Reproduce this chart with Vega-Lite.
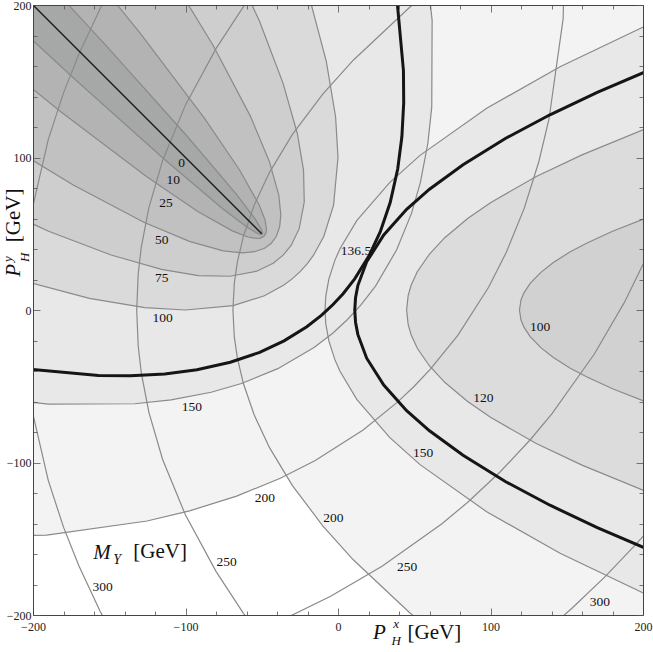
{
"$schema": "https://vega.github.io/schema/vega-lite/v6.json",
"width": 610, "height": 610,
"autosize": {"type": "none"},
"padding": {"left": 33, "top": 5, "right": 10, "bottom": 37},
"background": "white",
"config": {"view": {"stroke": null}},
"resolve": {"axis": {"x": "independent", "y": "independent"}},
"datasets": {
"c": [
{"g":"L10","i":0,"x":-220.3,"y":247.4},{"g":"L10","i":1,"x":-152.5,"y":173.8},{"g":"L10","i":2,"x":-99.03,"y":114.1},{"g":"L10","i":3,"x":-66.58,"y":75.84},{"g":"L10","i":4,"x":-54.36,"y":59.78},{"g":"L10","i":5,"x":-50.13,"y":52.7},{"g":"L10","i":6,"x":-49.5,"y":50.5},{"g":"L10","i":7,"x":-49.75,"y":49.75},{"g":"L10","i":8,"x":-50.5,"y":49.5},{"g":"L10","i":9,"x":-52.7,"y":50.13},{"g":"L10","i":10,"x":-59.78,"y":54.36},{"g":"L10","i":11,"x":-75.84,"y":66.58},{"g":"L10","i":12,"x":-114.1,"y":99.03},{"g":"L10","i":13,"x":-173.8,"y":152.5},{"g":"L10","i":14,"x":-247.4,"y":220.3},
{"g":"L25","i":0,"x":-199.8,"y":267.9},{"g":"L25","i":1,"x":-130.13,"y":182.0},{"g":"L25","i":2,"x":-87.5,"y":125.63},{"g":"L25","i":3,"x":-64.62,"y":91.95},{"g":"L25","i":4,"x":-51.89,"y":69.33},{"g":"L25","i":5,"x":-47.89,"y":59.18},{"g":"L25","i":6,"x":-46.875,"y":53.125},{"g":"L25","i":7,"x":-47.17,"y":50.71},{"g":"L25","i":8,"x":-48.44,"y":48.44},{"g":"L25","i":9,"x":-50.71,"y":47.17},{"g":"L25","i":10,"x":-53.125,"y":46.875},{"g":"L25","i":11,"x":-59.18,"y":47.89},{"g":"L25","i":12,"x":-69.33,"y":51.89},{"g":"L25","i":13,"x":-91.95,"y":64.62},{"g":"L25","i":14,"x":-125.63,"y":87.5},{"g":"L25","i":15,"x":-182.0,"y":130.13},{"g":"L25","i":16,"x":-267.9,"y":199.8},
{"g":"L50","i":0,"x":-164.9,"y":302.8},{"g":"L50","i":1,"x":-119.5,"y":235.06},{"g":"L50","i":2,"x":-81.95,"y":173.62},{"g":"L50","i":3,"x":-57.54,"y":127.31},{"g":"L50","i":4,"x":-45.01,"y":97.42},{"g":"L50","i":5,"x":-38.82,"y":75.32},{"g":"L50","i":6,"x":-37.5,"y":62.5},{"g":"L50","i":7,"x":-38.23,"y":54.7},{"g":"L50","i":8,"x":-40.5,"y":48.19},{"g":"L50","i":9,"x":-43.75,"y":43.75},{"g":"L50","i":10,"x":-48.19,"y":40.5},{"g":"L50","i":11,"x":-54.7,"y":38.23},{"g":"L50","i":12,"x":-62.5,"y":37.5},{"g":"L50","i":13,"x":-75.32,"y":38.82},{"g":"L50","i":14,"x":-97.42,"y":45.01},{"g":"L50","i":15,"x":-127.31,"y":57.54},{"g":"L50","i":16,"x":-173.62,"y":81.95},{"g":"L50","i":17,"x":-235.06,"y":119.5},{"g":"L50","i":18,"x":-302.8,"y":164.9},
{"g":"L75","i":0,"x":-128.35,"y":339.3},{"g":"L75","i":1,"x":-78.57,"y":247.7},{"g":"L75","i":2,"x":-51.65,"y":189.77},{"g":"L75","i":3,"x":-36.06,"y":148.8},{"g":"L75","i":4,"x":-26.67,"y":115.76},{"g":"L75","i":5,"x":-22.59,"y":91.55},{"g":"L75","i":6,"x":-22.13,"y":70.8},{"g":"L75","i":7,"x":-25.46,"y":53.33},{"g":"L75","i":8,"x":-30.64,"y":42.49},{"g":"L75","i":9,"x":-35.94,"y":35.94},{"g":"L75","i":10,"x":-42.49,"y":30.64},{"g":"L75","i":11,"x":-53.33,"y":25.46},{"g":"L75","i":12,"x":-70.8,"y":22.13},{"g":"L75","i":13,"x":-91.55,"y":22.59},{"g":"L75","i":14,"x":-115.76,"y":26.67},{"g":"L75","i":15,"x":-148.8,"y":36.06},{"g":"L75","i":16,"x":-189.77,"y":51.65},{"g":"L75","i":17,"x":-247.7,"y":78.57},{"g":"L75","i":18,"x":-339.3,"y":128.35},
{"g":"L100","i":0,"x":-89.3,"y":378.4},{"g":"L100","i":1,"x":-41.59,"y":270.55},{"g":"L100","i":2,"x":-19.49,"y":207.79},{"g":"L100","i":3,"x":-7.67,"y":163.05},{"g":"L100","i":4,"x":-1.58,"y":126.71},{"g":"L100","i":5,"x":0,"y":100},{"g":"L100","i":6,"x":-2.91,"y":68.81},{"g":"L100","i":7,"x":-9.33,"y":48.25},{"g":"L100","i":8,"x":-16.16,"y":35.75},{"g":"L100","i":9,"x":-20.25,"y":30.25},{"g":"L100","i":10,"x":-25,"y":25},{"g":"L100","i":11,"x":-30.25,"y":20.25},{"g":"L100","i":12,"x":-35.75,"y":16.16},{"g":"L100","i":13,"x":-48.25,"y":9.33},{"g":"L100","i":14,"x":-68.81,"y":2.91},{"g":"L100","i":15,"x":-100,"y":0},{"g":"L100","i":16,"x":-126.71,"y":1.58},{"g":"L100","i":17,"x":-163.05,"y":7.67},{"g":"L100","i":18,"x":-207.79,"y":19.49},{"g":"L100","i":19,"x":-270.55,"y":41.59},{"g":"L100","i":20,"x":-378.4,"y":89.3},
{"g":"L136","i":0,"x":-26.7,"y":441},{"g":"L136","i":1,"x":27.14,"y":268.6},{"g":"L136","i":2,"x":38.18,"y":208.9},{"g":"L136","i":3,"x":42.91,"y":157.06},{"g":"L136","i":4,"x":43.09,"y":136.02},{"g":"L136","i":5,"x":41.89,"y":113.6},{"g":"L136","i":6,"x":39.15,"y":92.48},{"g":"L136","i":7,"x":34.27,"y":70.63},{"g":"L136","i":8,"x":27.74,"y":51.37},{"g":"L136","i":9,"x":20.24,"y":35.39},{"g":"L136","i":10,"x":10.95,"y":20.44},{"g":"L136","i":11,"x":3.35,"y":10.72},{"g":"L136","i":12,"x":-3.42,"y":3.42},{"g":"L136","i":13,"x":-10.72,"y":-3.35},{"g":"L136","i":14,"x":-20.44,"y":-10.95},{"g":"L136","i":15,"x":-35.39,"y":-20.24},{"g":"L136","i":16,"x":-51.37,"y":-27.74},{"g":"L136","i":17,"x":-70.63,"y":-34.27},{"g":"L136","i":18,"x":-92.48,"y":-39.15},{"g":"L136","i":19,"x":-113.6,"y":-41.89},{"g":"L136","i":20,"x":-136.02,"y":-43.09},{"g":"L136","i":21,"x":-157.06,"y":-42.91},{"g":"L136","i":22,"x":-208.9,"y":-38.18},{"g":"L136","i":23,"x":-268.6,"y":-27.14},{"g":"L136","i":24,"x":-441,"y":26.7},
{"g":"L150","i":0,"x":-1.42,"y":466.3},{"g":"L150","i":1,"x":35.06,"y":347.2},{"g":"L150","i":2,"x":54.72,"y":253.7},{"g":"L150","i":3,"x":61.72,"y":190.0},{"g":"L150","i":4,"x":61.48,"y":133.19},{"g":"L150","i":5,"x":58.94,"y":109.44},{"g":"L150","i":6,"x":53.92,"y":83.21},{"g":"L150","i":7,"x":48.19,"y":63.34},{"g":"L150","i":8,"x":38.47,"y":39.48},{"g":"L150","i":9,"x":24.6,"y":15.7},{"g":"L150","i":10,"x":15.2,"y":3.47},{"g":"L150","i":11,"x":6.25,"y":-6.25},{"g":"L150","i":12,"x":-3.47,"y":-15.2},{"g":"L150","i":13,"x":-15.7,"y":-24.6},{"g":"L150","i":14,"x":-39.48,"y":-38.47},{"g":"L150","i":15,"x":-63.34,"y":-48.19},{"g":"L150","i":16,"x":-83.21,"y":-53.92},{"g":"L150","i":17,"x":-109.44,"y":-58.94},{"g":"L150","i":18,"x":-133.19,"y":-61.48},{"g":"L150","i":19,"x":-190.0,"y":-61.72},{"g":"L150","i":20,"x":-253.7,"y":-54.72},{"g":"L150","i":21,"x":-347.2,"y":-35.06},{"g":"L150","i":22,"x":-466.3,"y":1.42},
{"g":"L200","i":0,"x":103.1,"y":570.8},{"g":"L200","i":1,"x":140.6,"y":382.1},{"g":"L200","i":2,"x":149.55,"y":277.8},{"g":"L200","i":3,"x":147.64,"y":191.07},{"g":"L200","i":4,"x":138.37,"y":125.24},{"g":"L200","i":5,"x":131.73,"y":97.38},{"g":"L200","i":6,"x":122.04,"y":66.48},{"g":"L200","i":7,"x":110.37,"y":37.84},{"g":"L200","i":8,"x":98.75,"y":14.91},{"g":"L200","i":9,"x":78.67,"y":-16.49},{"g":"L200","i":10,"x":60.59,"y":-38.81},{"g":"L200","i":11,"x":50,"y":-50},{"g":"L200","i":12,"x":38.81,"y":-60.59},{"g":"L200","i":13,"x":16.49,"y":-78.67},{"g":"L200","i":14,"x":-14.91,"y":-98.75},{"g":"L200","i":15,"x":-37.84,"y":-110.37},{"g":"L200","i":16,"x":-66.48,"y":-122.04},{"g":"L200","i":17,"x":-97.38,"y":-131.73},{"g":"L200","i":18,"x":-125.24,"y":-138.37},{"g":"L200","i":19,"x":-191.07,"y":-147.64},{"g":"L200","i":20,"x":-277.8,"y":-149.55},{"g":"L200","i":21,"x":-382.1,"y":-140.6},{"g":"L200","i":22,"x":-570.8,"y":-103.1},
{"g":"L250","i":0,"x":-100.98,"y":-227.3},{"g":"L250","i":1,"x":-32.6,"y":-201.3},{"g":"L250","i":2,"x":-4.82,"y":-187.7},{"g":"L250","i":3,"x":28.88,"y":-168.1},{"g":"L250","i":4,"x":67.94,"y":-140.35},{"g":"L250","i":5,"x":84.92,"y":-126.2},{"g":"L250","i":6,"x":106.25,"y":-106.25},{"g":"L250","i":7,"x":126.2,"y":-84.92},{"g":"L250","i":8,"x":140.35,"y":-67.94},{"g":"L250","i":9,"x":168.1,"y":-28.88},{"g":"L250","i":10,"x":187.7,"y":4.82},{"g":"L250","i":11,"x":201.3,"y":32.6},{"g":"L250","i":12,"x":227.3,"y":100.98},
{"g":"L300","i":0,"x":97,"y":-241.4},{"g":"L300","i":1,"x":136,"y":-210.9},{"g":"L300","i":2,"x":153.4,"y":-195.6},{"g":"L300","i":3,"x":175,"y":-175},{"g":"L300","i":4,"x":195.6,"y":-153.4},{"g":"L300","i":5,"x":210.9,"y":-136},{"g":"L300","i":6,"x":241.4,"y":-97},
{"g":"L0","i":0,"x":-50,"y":50},{"g":"L0","i":1,"x":-210,"y":210},
{"g":"R100","i":0,"x":230,"y":69.6},{"g":"R100","i":1,"x":200,"y":59.5},{"g":"R100","i":2,"x":180,"y":51.6},{"g":"R100","i":3,"x":163,"y":43.8},{"g":"R100","i":4,"x":152,"y":38.0},{"g":"R100","i":5,"x":141,"y":31.0},{"g":"R100","i":6,"x":133,"y":24.7},{"g":"R100","i":7,"x":126,"y":17.5},{"g":"R100","i":8,"x":122,"y":11.4},{"g":"R100","i":9,"x":120,"y":6.6},{"g":"R100","i":10,"x":119,"y":0},{"g":"R100","i":11,"x":120,"y":-6.6},{"g":"R100","i":12,"x":122,"y":-11.4},{"g":"R100","i":13,"x":126,"y":-17.5},{"g":"R100","i":14,"x":133,"y":-24.7},{"g":"R100","i":15,"x":141,"y":-31.0},{"g":"R100","i":16,"x":152,"y":-38.0},{"g":"R100","i":17,"x":163,"y":-43.8},{"g":"R100","i":18,"x":180,"y":-51.6},{"g":"R100","i":19,"x":200,"y":-59.5},{"g":"R100","i":20,"x":230,"y":-69.6},
{"g":"R120","i":0,"x":240,"y":132.5},{"g":"R120","i":1,"x":200,"y":118.1},{"g":"R120","i":2,"x":160,"y":101.7},{"g":"R120","i":3,"x":130,"y":87.5},{"g":"R120","i":4,"x":100,"y":70.4},{"g":"R120","i":5,"x":85,"y":60},{"g":"R120","i":6,"x":70,"y":47.4},{"g":"R120","i":7,"x":60,"y":36.7},{"g":"R120","i":8,"x":52,"y":25.1},{"g":"R120","i":9,"x":48,"y":16.4},{"g":"R120","i":10,"x":46,"y":9.5},{"g":"R120","i":11,"x":45,"y":0},{"g":"R120","i":12,"x":46,"y":-9.5},{"g":"R120","i":13,"x":48,"y":-16.4},{"g":"R120","i":14,"x":52,"y":-25.1},{"g":"R120","i":15,"x":60,"y":-36.7},{"g":"R120","i":16,"x":70,"y":-47.4},{"g":"R120","i":17,"x":85,"y":-60},{"g":"R120","i":18,"x":100,"y":-70.4},{"g":"R120","i":19,"x":130,"y":-87.5},{"g":"R120","i":20,"x":160,"y":-101.7},{"g":"R120","i":21,"x":200,"y":-118.1},{"g":"R120","i":22,"x":240,"y":-132.5},
{"g":"R136","i":0,"x":240,"y":171},{"g":"R136","i":1,"x":200.2,"y":155.6},{"g":"R136","i":2,"x":170,"y":142.7},{"g":"R136","i":3,"x":139,"y":128},{"g":"R136","i":4,"x":110,"y":112.6},{"g":"R136","i":5,"x":82,"y":95.3},{"g":"R136","i":6,"x":60,"y":79.2},{"g":"R136","i":7,"x":45,"y":66},{"g":"R136","i":8,"x":30,"y":49.2},{"g":"R136","i":9,"x":18.8,"y":31.6},{"g":"R136","i":10,"x":13,"y":16},{"g":"R136","i":11,"x":11.5,"y":8},{"g":"R136","i":12,"x":11,"y":0},{"g":"R136","i":13,"x":11.5,"y":-8},{"g":"R136","i":14,"x":13,"y":-16},{"g":"R136","i":15,"x":18.8,"y":-31.6},{"g":"R136","i":16,"x":30,"y":-49.2},{"g":"R136","i":17,"x":45,"y":-66},{"g":"R136","i":18,"x":60,"y":-79.2},{"g":"R136","i":19,"x":82,"y":-95.3},{"g":"R136","i":20,"x":110,"y":-112.6},{"g":"R136","i":21,"x":139,"y":-128},{"g":"R136","i":22,"x":170,"y":-142.7},{"g":"R136","i":23,"x":200.2,"y":-155.6},{"g":"R136","i":24,"x":240,"y":-171},
{"g":"R150","i":0,"x":250,"y":206.5},{"g":"R150","i":1,"x":200.2,"y":185.6},{"g":"R150","i":2,"x":145.6,"y":159.5},{"g":"R150","i":3,"x":97.5,"y":132.3},{"g":"R150","i":4,"x":53.8,"y":101.4},{"g":"R150","i":5,"x":34,"y":83.7},{"g":"R150","i":6,"x":12.3,"y":58.6},{"g":"R150","i":7,"x":1.3,"y":40.2},{"g":"R150","i":8,"x":-2,"y":32.7},{"g":"R150","i":9,"x":-6,"y":20.3},{"g":"R150","i":10,"x":-8,"y":9.1},{"g":"R150","i":11,"x":-8.5,"y":0},{"g":"R150","i":12,"x":-8,"y":-9.1},{"g":"R150","i":13,"x":-6,"y":-20.3},{"g":"R150","i":14,"x":-2,"y":-32.7},{"g":"R150","i":15,"x":1.3,"y":-40.2},{"g":"R150","i":16,"x":12.3,"y":-58.6},{"g":"R150","i":17,"x":34,"y":-83.7},{"g":"R150","i":18,"x":53.8,"y":-101.4},{"g":"R150","i":19,"x":97.5,"y":-132.3},{"g":"R150","i":20,"x":145.6,"y":-159.5},{"g":"R150","i":21,"x":200.2,"y":-185.6},{"g":"R150","i":22,"x":250,"y":-206.5},
{"g":"R200","i":0,"x":300,"y":300},{"g":"R200","i":1,"x":80,"y":225},{"g":"R200","i":2,"x":47.2,"y":198.7},{"g":"R200","i":3,"x":10,"y":163.8},{"g":"R200","i":4,"x":-10,"y":141.5},{"g":"R200","i":5,"x":-30,"y":115.0},{"g":"R200","i":6,"x":-45,"y":90.1},{"g":"R200","i":7,"x":-55,"y":68.7},{"g":"R200","i":8,"x":-62,"y":48.4},{"g":"R200","i":9,"x":-66,"y":31.4},{"g":"R200","i":10,"x":-68,"y":17.5},{"g":"R200","i":11,"x":-68.9,"y":0},{"g":"R200","i":12,"x":-68,"y":-17.5},{"g":"R200","i":13,"x":-66,"y":-31.4},{"g":"R200","i":14,"x":-62,"y":-48.4},{"g":"R200","i":15,"x":-55,"y":-68.7},{"g":"R200","i":16,"x":-45,"y":-90.1},{"g":"R200","i":17,"x":-30,"y":-115.0},{"g":"R200","i":18,"x":-10,"y":-141.5},{"g":"R200","i":19,"x":10,"y":-163.8},{"g":"R200","i":20,"x":47.2,"y":-198.7},{"g":"R200","i":21,"x":80,"y":-225},{"g":"R200","i":22,"x":300,"y":-300},
{"g":"R250","i":0,"x":-40,"y":228},{"g":"R250","i":1,"x":-62,"y":198.9},{"g":"R250","i":2,"x":-80,"y":171.4},{"g":"R250","i":3,"x":-100,"y":134.5},{"g":"R250","i":4,"x":-115,"y":98},{"g":"R250","i":5,"x":-124,"y":67.2},{"g":"R250","i":6,"x":-129,"y":41.2},{"g":"R250","i":7,"x":-131,"y":23.8},{"g":"R250","i":8,"x":-132,"y":0},{"g":"R250","i":9,"x":-131,"y":-23.8},{"g":"R250","i":10,"x":-129,"y":-41.2},{"g":"R250","i":11,"x":-124,"y":-67.2},{"g":"R250","i":12,"x":-115,"y":-98},{"g":"R250","i":13,"x":-100,"y":-134.5},{"g":"R250","i":14,"x":-80,"y":-171.4},{"g":"R250","i":15,"x":-62,"y":-198.9},{"g":"R250","i":16,"x":-40,"y":-228},
{"g":"R300","i":0,"x":-140,"y":226.9},{"g":"R300","i":1,"x":-156,"y":197.5},{"g":"R300","i":2,"x":-170,"y":167.6},{"g":"R300","i":3,"x":-180,"y":142.4},{"g":"R300","i":4,"x":-190,"y":111.7},{"g":"R300","i":5,"x":-200,"y":68.4},{"g":"R300","i":6,"x":-204,"y":39.5},{"g":"R300","i":7,"x":-206,"y":0},{"g":"R300","i":8,"x":-204,"y":-39.5},{"g":"R300","i":9,"x":-200,"y":-68.4},{"g":"R300","i":10,"x":-190,"y":-111.7},{"g":"R300","i":11,"x":-180,"y":-142.4},{"g":"R300","i":12,"x":-170,"y":-167.6},{"g":"R300","i":13,"x":-156,"y":-197.5},{"g":"R300","i":14,"x":-140,"y":-226.9}
],
"lab": [
{"t":"0","x":-102.5,"y":96.2},{"t":"10","x":-108.0,"y":85.0},{"t":"25","x":-112.8,"y":70.0},{"t":"50","x":-115.6,"y":45.9},{"t":"75","x":-115.6,"y":20.8},{"t":"100","x":-115.0,"y":-5.4},{"t":"150","x":-95.9,"y":-63.4},{"t":"200","x":-47.9,"y":-123.5},{"t":"250","x":45.4,"y":-168.3},{"t":"300","x":171.8,"y":-191.3},
{"t":"100","x":132.5,"y":-11.3},{"t":"120","x":95.3,"y":-57.9},{"t":"136.5","x":11.8,"y":38.7},{"t":"150","x":55.9,"y":-94.0},{"t":"200","x":-3.1,"y":-136.6},{"t":"250","x":-73.0,"y":-165.0},{"t":"300","x":-154.3,"y":-181.4}
],
"ti": [
{"t":"P","x":22.95,"y":-215.7,"s":21,"a":0},{"t":"H","x":35.0,"y":-219.7,"s":13,"a":0},{"t":"x","x":36.3,"y":-208.2,"s":13,"a":0},
{"t":"M","x":-160.5,"y":-163.5,"s":21,"a":0},{"t":"Y","x":-147.3,"y":-166.6,"s":14,"a":0},
{"t":"P","x":-208.5,"y":21.8,"s":21,"a":270},{"t":"H","x":-202.8,"y":31.5,"s":13,"a":270},{"t":"y","x":-213.6,"y":31.5,"s":13,"a":270}
],
"tn": [
{"t":"[GeV]","x":45.6,"y":-215.7,"s":21,"a":0},{"t":"[GeV]","x":-134.2,"y":-162.6,"s":21,"a":0},{"t":"[GeV]","x":-208.5,"y":44.5,"s":21,"a":270}
]
},
"layer": [
{"data":{"name":"c"},"transform":[{"filter":"datum.g === 'L200'"}],
 "mark":{"type":"line","fill":"#f3f3f3","strokeOpacity":0,"clip":true},
 "encoding":{
  "x":{"field":"x","type":"quantitative","scale":{"domain":[-200,200],"nice":false,"zero":false},
   "axis":{"orient":"bottom","values":[-200,-180,-160,-140,-120,-100,-80,-60,-40,-20,0,20,40,60,80,100,120,140,160,180,200],
    "tickSize":{"condition":{"test":"datum.value % 100 === 0","value":-7},"value":-4},
    "labelExpr":"datum.value % 100 === 0 ? datum.label : ''","labelFont":"Liberation Serif","labelFontSize":12,"labelColor":"#222","labelPadding":13,
    "tickColor":"#555","tickWidth":0.8,"domainColor":"#444","domainWidth":1,"grid":false,"title":null,"zindex":1,"labelFlush":false,"labelOverlap":false,"labelBound":false}},
  "y":{"field":"y","type":"quantitative","scale":{"domain":[-200,200],"nice":false,"zero":false},
   "axis":{"orient":"left","values":[-200,-180,-160,-140,-120,-100,-80,-60,-40,-20,0,20,40,60,80,100,120,140,160,180,200],
    "tickSize":{"condition":{"test":"datum.value % 100 === 0","value":-7},"value":-4},
    "labelExpr":"datum.value % 100 === 0 ? datum.label : ''","labelFont":"Liberation Serif","labelFontSize":12,"labelColor":"#222","labelPadding":9,
    "tickColor":"#555","tickWidth":0.8,"domainColor":"#444","domainWidth":1,"grid":false,"title":null,"zindex":1,"labelFlush":false,"labelOverlap":false,"labelBound":false}},
  "order":{"field":"i","type":"quantitative"}}},
{"data":{"name":"c"},"transform":[{"filter":"datum.g === 'R200'"}],
 "mark":{"type":"line","fill":"#f3f3f3","strokeOpacity":0,"clip":true},
 "encoding":{
  "x":{"field":"x","type":"quantitative","scale":{"domain":[-200,200],"nice":false,"zero":false},
   "axis":{"orient":"top","values":[-200,-180,-160,-140,-120,-100,-80,-60,-40,-20,0,20,40,60,80,100,120,140,160,180,200],
    "tickSize":{"condition":{"test":"datum.value % 100 === 0","value":-7},"value":-4},"labels":false,
    "tickColor":"#555","tickWidth":0.8,"domainColor":"#444","domainWidth":1,"grid":false,"title":null,"zindex":1}},
  "y":{"field":"y","type":"quantitative","scale":{"domain":[-200,200],"nice":false,"zero":false},
   "axis":{"orient":"right","values":[-200,-180,-160,-140,-120,-100,-80,-60,-40,-20,0,20,40,60,80,100,120,140,160,180,200],
    "tickSize":{"condition":{"test":"datum.value % 100 === 0","value":-7},"value":-4},"labels":false,
    "tickColor":"#555","tickWidth":0.8,"domainColor":"#444","domainWidth":1,"grid":false,"title":null,"zindex":1}},
  "order":{"field":"i","type":"quantitative"}}},
{"data":{"name":"c"},"transform":[{"filter":"datum.g === 'L150'"}],"mark":{"type":"line","fill":"#e8e8e8","strokeOpacity":0,"clip":true},
 "encoding":{"x":{"field":"x","type":"quantitative","axis":null},"y":{"field":"y","type":"quantitative","axis":null},"order":{"field":"i","type":"quantitative"}}},
{"data":{"name":"c"},"transform":[{"filter":"datum.g === 'R150'"}],"mark":{"type":"line","fill":"#e8e8e8","strokeOpacity":0,"clip":true},
 "encoding":{"x":{"field":"x","type":"quantitative","axis":null},"y":{"field":"y","type":"quantitative","axis":null},"order":{"field":"i","type":"quantitative"}}},
{"data":{"name":"c"},"transform":[{"filter":"datum.g === 'R120'"}],"mark":{"type":"line","fill":"#dcdcdc","strokeOpacity":0,"clip":true},
 "encoding":{"x":{"field":"x","type":"quantitative","axis":null},"y":{"field":"y","type":"quantitative","axis":null},"order":{"field":"i","type":"quantitative"}}},
{"data":{"name":"c"},"transform":[{"filter":"datum.g === 'L100'"}],"mark":{"type":"line","fill":"#dadada","strokeOpacity":0,"clip":true},
 "encoding":{"x":{"field":"x","type":"quantitative","axis":null},"y":{"field":"y","type":"quantitative","axis":null},"order":{"field":"i","type":"quantitative"}}},
{"data":{"name":"c"},"transform":[{"filter":"datum.g === 'R100'"}],"mark":{"type":"line","fill":"#d1d1d1","strokeOpacity":0,"clip":true},
 "encoding":{"x":{"field":"x","type":"quantitative","axis":null},"y":{"field":"y","type":"quantitative","axis":null},"order":{"field":"i","type":"quantitative"}}},
{"data":{"name":"c"},"transform":[{"filter":"datum.g === 'L75'"}],"mark":{"type":"line","fill":"#cecece","strokeOpacity":0,"clip":true},
 "encoding":{"x":{"field":"x","type":"quantitative","axis":null},"y":{"field":"y","type":"quantitative","axis":null},"order":{"field":"i","type":"quantitative"}}},
{"data":{"name":"c"},"transform":[{"filter":"datum.g === 'L50'"}],"mark":{"type":"line","fill":"#c1c1c1","strokeOpacity":0,"clip":true},
 "encoding":{"x":{"field":"x","type":"quantitative","axis":null},"y":{"field":"y","type":"quantitative","axis":null},"order":{"field":"i","type":"quantitative"}}},
{"data":{"name":"c"},"transform":[{"filter":"datum.g === 'L25'"}],"mark":{"type":"line","fill":"#b3b3b3","strokeOpacity":0,"clip":true},
 "encoding":{"x":{"field":"x","type":"quantitative","axis":null},"y":{"field":"y","type":"quantitative","axis":null},"order":{"field":"i","type":"quantitative"}}},
{"data":{"name":"c"},"transform":[{"filter":"datum.g === 'L10'"}],"mark":{"type":"line","fill":"#a6a8a8","strokeOpacity":0,"clip":true},
 "encoding":{"x":{"field":"x","type":"quantitative","axis":null},"y":{"field":"y","type":"quantitative","axis":null},"order":{"field":"i","type":"quantitative"}}},
{"data":{"name":"c"},"transform":[{"filter":{"field":"g","oneOf":["L10","L25","L50","L75","L100","L150","L200","L250","L300","R100","R120","R150","R200","R250","R300"]}}],
 "mark":{"type":"line","stroke":"#8a8a8a","strokeWidth":1.2,"clip":true},
 "encoding":{"x":{"field":"x","type":"quantitative","axis":null},"y":{"field":"y","type":"quantitative","axis":null},"order":{"field":"i","type":"quantitative"},"detail":{"field":"g","type":"nominal"}}},
{"data":{"name":"c"},"transform":[{"filter":{"field":"g","oneOf":["L136","R136"]}}],
 "mark":{"type":"line","stroke":"#151515","strokeWidth":3,"clip":true},
 "encoding":{"x":{"field":"x","type":"quantitative","axis":null},"y":{"field":"y","type":"quantitative","axis":null},"order":{"field":"i","type":"quantitative"},"detail":{"field":"g","type":"nominal"}}},
{"data":{"name":"c"},"transform":[{"filter":"datum.g === 'L0'"}],
 "mark":{"type":"line","stroke":"#1a1a1a","strokeWidth":1.4,"clip":true},
 "encoding":{"x":{"field":"x","type":"quantitative","axis":null},"y":{"field":"y","type":"quantitative","axis":null},"order":{"field":"i","type":"quantitative"}}},
{"data":{"name":"lab"},
 "mark":{"type":"text","font":"Liberation Serif","fontSize":13.5,"color":"#111"},
 "encoding":{"x":{"field":"x","type":"quantitative","axis":null},"y":{"field":"y","type":"quantitative","axis":null},"text":{"field":"t","type":"nominal"}}},
{"data":{"name":"ti"},
 "mark":{"type":"text","font":"Liberation Serif","fontStyle":"italic","align":"left","baseline":"alphabetic","color":"#111"},
 "encoding":{"x":{"field":"x","type":"quantitative","axis":null},"y":{"field":"y","type":"quantitative","axis":null},"text":{"field":"t","type":"nominal"},
  "size":{"field":"s","type":"quantitative","scale":null},"angle":{"field":"a","type":"quantitative","scale":null}}},
{"data":{"name":"tn"},
 "mark":{"type":"text","font":"Liberation Serif","align":"left","baseline":"alphabetic","color":"#111"},
 "encoding":{"x":{"field":"x","type":"quantitative","axis":null},"y":{"field":"y","type":"quantitative","axis":null},"text":{"field":"t","type":"nominal"},
  "size":{"field":"s","type":"quantitative","scale":null},"angle":{"field":"a","type":"quantitative","scale":null}}}
]
}
